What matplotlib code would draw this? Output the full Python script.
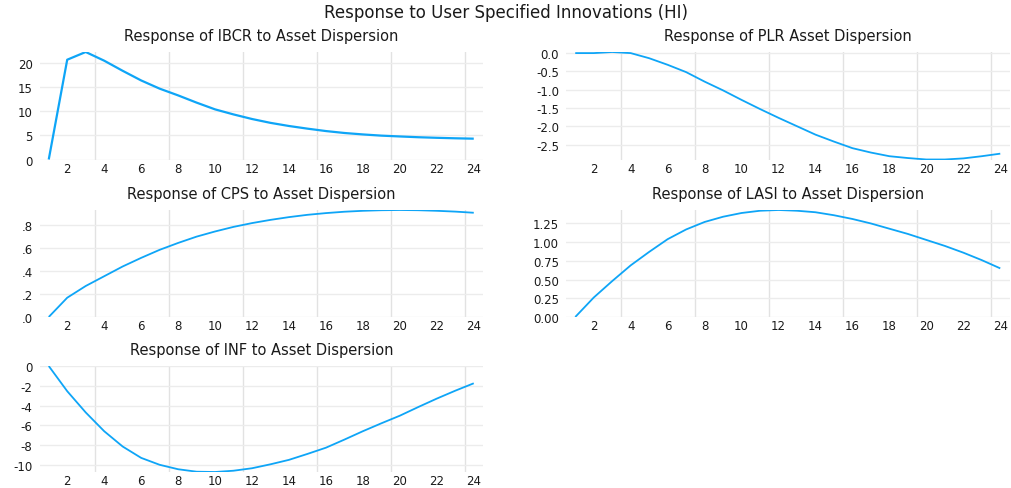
import numpy as np
import matplotlib
matplotlib.use("Agg")
import matplotlib.pyplot as plt

plt.rcParams['font.family'] = ['DejaVu Sans']
plt.rcParams['axes.unicode_minus'] = False

# Periods
periods = np.arange(1, 25)

# Responses
ibcr = [0.0, 20.7, 22.3, 20.5, 18.4, 16.4, 14.7, 13.3, 11.8, 10.4, 9.35, 8.4,
        7.6, 6.95, 6.4, 5.9, 5.5, 5.2, 4.95, 4.78, 4.62, 4.5, 4.4, 4.32]
plr = [0.0, 0.0, 0.03, 0.0, -0.14, -0.32, -0.52, -0.78, -1.02, -1.28, -1.53, -1.77,
       -2.0, -2.23, -2.42, -2.6, -2.72, -2.82, -2.87, -2.91, -2.91, -2.88, -2.82, -2.75]
cps = [0.0, 0.168, 0.27, 0.355, 0.44, 0.515, 0.585, 0.645, 0.70, 0.745, 0.785, 0.818,
       0.846, 0.87, 0.89, 0.905, 0.917, 0.925, 0.93, 0.932, 0.93, 0.925, 0.918, 0.908]
lasi = [0.0, 0.26, 0.48, 0.69, 0.87, 1.04, 1.17, 1.27, 1.34, 1.39, 1.42, 1.43,
        1.42, 1.40, 1.36, 1.31, 1.25, 1.18, 1.11, 1.03, 0.95, 0.86, 0.76, 0.65]
inf = [0.0, -2.55, -4.7, -6.6, -8.15, -9.3, -10.0, -10.45, -10.7, -10.73, -10.6, -10.35,
       -9.95, -9.5, -8.9, -8.27, -7.45, -6.6, -5.8, -5.03, -4.15, -3.3, -2.5, -1.75]

panels = [
    ("Response of IBCR to Asset Dispersion", ibcr, [0, 5, 10, 15, 20],
     ["0", "5", "10", "15", "20"]),
    ("Response of PLR Asset Dispersion", plr, [0.0, -0.5, -1.0, -1.5, -2.0, -2.5],
     ["0.0", "-0.5", "-1.0", "-1.5", "-2.0", "-2.5"]),
    ("Response of CPS to Asset Dispersion", cps, [0.0, 0.2, 0.4, 0.6, 0.8],
     [".0", ".2", ".4", ".6", ".8"]),
    ("Response of LASI to Asset Dispersion", lasi, [0.0, 0.25, 0.5, 0.75, 1.0, 1.25],
     ["0.00", "0.25", "0.50", "0.75", "1.00", "1.25"]),
    ("Response of INF to Asset Dispersion", inf, [0, -2, -4, -6, -8, -10],
     ["0", "-2", "-4", "-6", "-8", "-10"]),
]

W, H = 1011, 489
fig = plt.figure(figsize=(W / 100, H / 100), dpi=100)

# axes boxes in pixels: left, top, right, bottom
lefts = [39.5, 566]
rows = [(53, 160.5), (211, 318), (367, 473)]
line_color = '#0ea5f7'
text_color = '#1a1a1a'

for i, (title, vals, yt, ytl) in enumerate(panels):
    col = i % 2
    top, bottom = rows[i // 2]
    left = lefts[col]
    ax = fig.add_axes([left / W, 1 - bottom / H, 443.5 / W, (bottom - top) / H])
    lw = 1.6 if i == 0 else 1.3
    ax.plot(periods, vals, color=line_color, lw=lw, solid_capstyle='butt')
    ax.set_xlim(0.5, 24.5)
    ax.set_ylim(min(vals), max(vals))
    ax.set_xticks(np.arange(2, 25, 2))
    ax.set_xticks(np.arange(3.5, 24, 4), minor=True)
    ax.set_yticks(yt)
    ax.set_yticklabels(ytl)
    ax.grid(True, which='minor', axis='x', color='#e2e2e2', lw=1.0)
    ax.grid(True, which='major', axis='y', color='#ececec', lw=1.0)
    ax.set_axisbelow(True)
    for s in ax.spines.values():
        s.set_visible(False)
    ax.tick_params(which='both', length=0, labelsize=8.5, colors=text_color)
    ax.tick_params(axis='x', pad=1.5)
    ax.tick_params(axis='y', pad=5)
    ax.set_title(title, fontsize=10.5, pad=9, color=text_color)

fig.text(0.5, 1 - 13 / H, "Response to User Specified Innovations (HI)",
         ha='center', va='center', fontsize=12, color=text_color)

fig.savefig("out.png", dpi=100)
